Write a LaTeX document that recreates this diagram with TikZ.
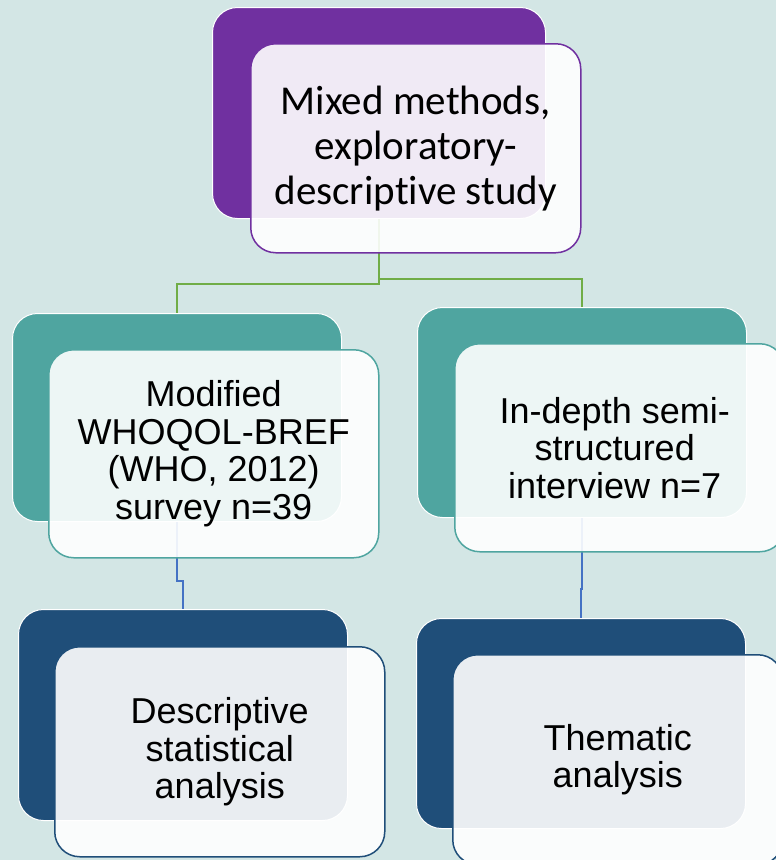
\documentclass[tikz,border=0pt]{standalone}
\usepackage{fontspec}
\setmainfont{Liberation Sans}
\newfontfamily\calibrifont[Ligatures=NoCommon]{Carlito}
\usetikzlibrary{positioning}
\definecolor{bgcol}{HTML}{D3E6E5}
\definecolor{toppurple}{HTML}{7030A0}
\definecolor{midteal}{HTML}{4FA5A0}
\definecolor{botblue}{HTML}{1F4E79}
\definecolor{linkgreen}{HTML}{70AD47}
\definecolor{linkblue}{HTML}{4472C4}

\begin{document}
\begin{tikzpicture}[x=1pt,y=-1pt,
		backbox/.style={rectangle,rounded corners=25pt,draw=white,line width=1pt,fill=#1,anchor=north west,minimum width=329pt,minimum height=210pt,inner sep=0pt},
		frontbox/.style={rectangle,rounded corners=25pt,draw=#1,line width=1.5pt,fill=white,fill opacity=0.9,text opacity=1,anchor=north west,minimum width=330pt,minimum height=209pt,inner sep=0pt,align=center,font=\fontsize{36}{37.5}\selectfont},
		link/.style={line width=1.5pt,draw=#1}]
			\fill[bgcol] (0,0) rectangle (776,860);
			\useasboundingbox (0,0) rectangle (776,860);
			\clip (0,0) rectangle (776,860);
			\node[backbox=toppurple,minimum width=333pt,minimum height=211pt] (topback) at (212,7) {};
			\node[backbox=midteal,minimum height=208pt] (lmidback) at (12,313) {};
			\node[backbox=midteal] (rmidback) at (417,307) {};
			\node[backbox=botblue,minimum height=211pt] (lbotback) at (18,609) {};
			\node[backbox=botblue] (rbotback) at (416,618) {};
			\draw[link=linkgreen] (topback.south) -- ++(0,65) -| (lmidback.north);
			\draw[link=linkgreen] (topback.south) -- ++(0,60) -| (rmidback.north);
			\draw[link=linkblue] (lmidback.south) -- ++(0,59) -| (lbotback.north);
			\draw[link=linkblue] (rmidback.south) -- ++(0,71) -| (rbotback.north);
			\node[frontbox=toppurple,font=\calibrifont\fontsize{41}{45}\selectfont] (topfront) at (250,43) {Mixed methods,\\exploratory-\\descriptive study};
			\node[frontbox=midteal,minimum height=208pt] (lmidfront) at (48,349) {Modified\\WHOQOL-BREF\\(WHO, 2012)\\survey n=39};
			\node[frontbox=midteal,minimum height=208pt] (rmidfront) at (454,343) {\hspace*{-10pt}In-depth semi-\\\hspace*{-10pt}structured\\\hspace*{-10pt}interview n=7};
			\node[frontbox=botblue,minimum height=210pt] (lbotfront) at (54,646) {Descriptive\\statistical\\analysis};
			\node[frontbox=botblue,minimum height=210pt] (rbotfront) at (452,654) {Thematic\\analysis};
		\end{tikzpicture}
\end{document}
